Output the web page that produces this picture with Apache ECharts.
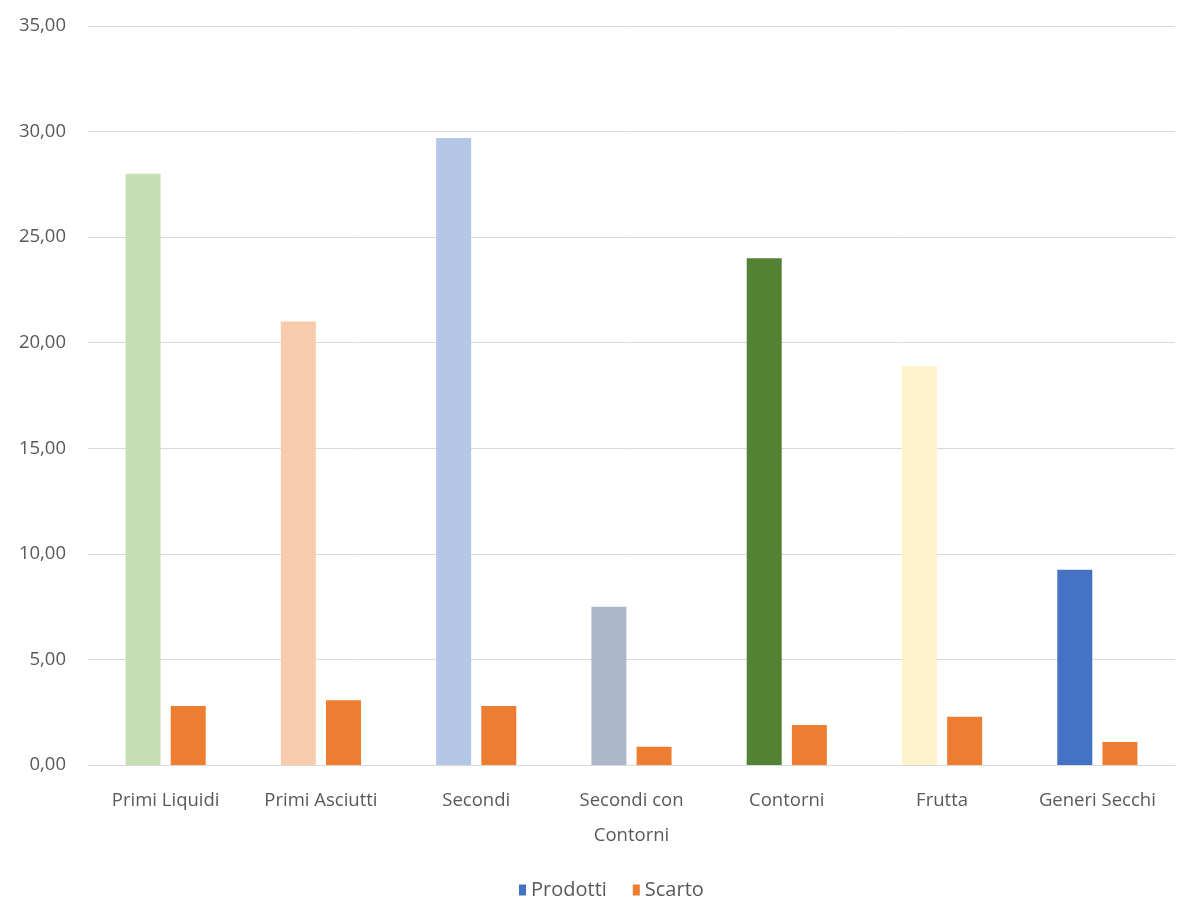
<!DOCTYPE html>
<html><head><meta charset="utf-8">
<script src="https://cdn.jsdelivr.net/npm/echarts@6/dist/echarts.min.js"></script>
<style>html,body{margin:0;padding:0;background:#fff}#c{width:1187px;height:903px}</style>
</head><body><div id="c"></div>
<script>
const categories = ['Primi Liquidi','Primi Asciutti','Secondi','Secondi con\nContorni','Contorni','Frutta','Generi Secchi'];
const prodotti = [28.0, 21.0, 29.7, 7.5, 24.0, 18.9, 9.25];
const scarto = [2.8, 3.07, 2.8, 0.87, 1.9, 2.28, 1.09];
const prodottiColors = ['#C5E0B4','#F8CBAD','#B4C7E7','#ADB9CA','#548235','#FFF2CC','#4472C4'];
const yTicks = [0,5,10,15,20,25,30,35];

const font = 'Open Sans';
const chart = echarts.init(document.getElementById('c'));
chart.setOption({
  animation:false,
  grid:{left:88,right:12,top:26,bottom:138},
  legend:{top:878,left:514,padding:[2,5],itemWidth:7,itemHeight:11,itemGap:26,icon:'rect',
    textStyle:{fontFamily:font,fontSize:20,color:'#595959'},
    data:[{name:'Prodotti',itemStyle:{color:'#4472C4'}},{name:'Scarto',itemStyle:{color:'#ED7D31'}}]},
  xAxis:{type:'category',data:categories,
    axisLine:{lineStyle:{color:'#D9D9D9',width:1}},axisTick:{show:false},
    axisLabel:{fontFamily:font,fontSize:18.5,color:'#595959',margin:18,lineHeight:35,interval:0}},
  yAxis:{type:'value',min:yTicks[0],max:yTicks[yTicks.length-1],interval:5,
    axisLine:{show:false},axisTick:{show:false},
    splitLine:{lineStyle:{color:'#D9D9D9',width:1}},
    axisLabel:{fontFamily:font,fontSize:18.5,color:'#595959',margin:22,
      formatter:v=>v.toFixed(2).replace('.',',')}},
  series:[
    {name:'Prodotti',type:'bar',barWidth:35,barGap:'29%',
      data:prodotti.map((v,i)=>({value:v,itemStyle:{color:prodottiColors[i]}})),
      itemStyle:{color:'#4472C4'}},
    {name:'Scarto',type:'bar',barWidth:35,data:scarto,itemStyle:{color:'#ED7D31'}}
  ]
});
</script></body></html>
